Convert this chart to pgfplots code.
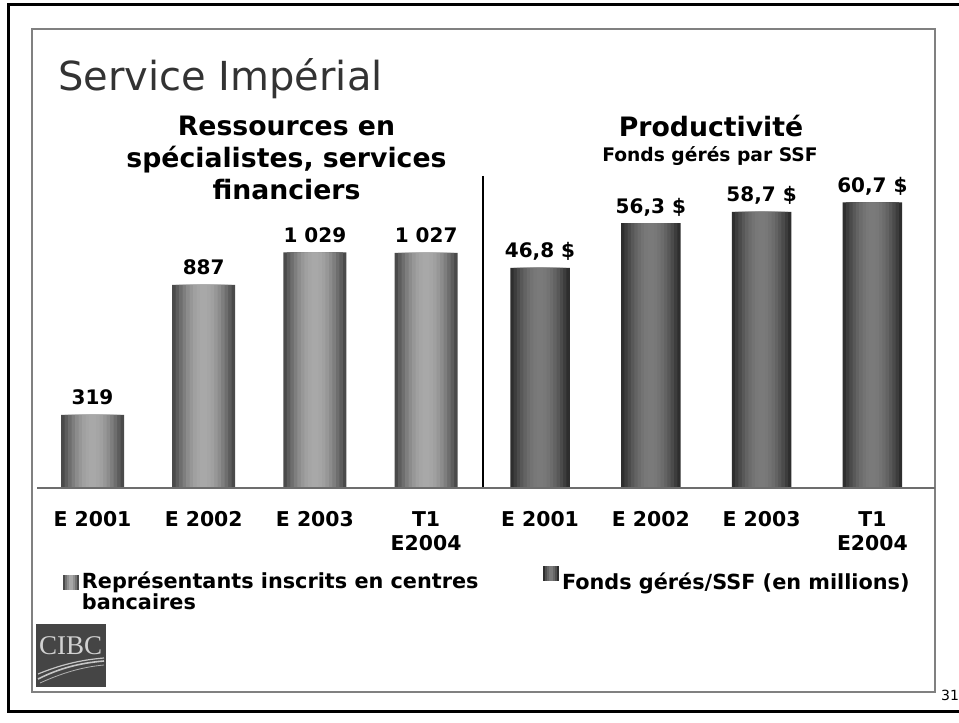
\documentclass[border=0pt]{standalone}
\usepackage{pgfplots}
\usepackage{pgfplotstable}
\pgfplotsset{compat=1.18}
\usepackage{fontspec}
\setmainfont{DejaVu Sans}
\newfontfamily\serifcibc{Liberation Serif}
\definecolor{lbedge}{HTML}{4A4A4A}
\definecolor{lbmid}{HTML}{A8A8A8}
\definecolor{rbedge}{HTML}{2E2E2E}
\definecolor{rbmid}{HTML}{7A7A7A}
\definecolor{titlegray}{HTML}{333333}
\definecolor{framegray}{HTML}{808080}
\definecolor{logogray}{HTML}{454545}
\newcommand\fs[2]{\fontsize{#1}{#2}\selectfont}

\pgfplotstableread{
x y
0 319
1 887
2 1029
3 1027
}\lefttab
\pgfplotstableread{
x y
0 46.8
1 56.3
2 58.7
3 60.7
}\righttab

% one vertical stripe of the cylinder-like shading: table, bar width, colour
\newcommand\stripe[3]{\addplot[ybar, bar width=#2pt, draw=none, fill=#3, forget plot] table[x=x,y=y] {#1};}
% striped legend swatch: edge colour, middle colour
\newcommand\swatch[2]{%
  \fill[#1] (0pt,1pt) rectangle (16pt,16pt);
  \fill[#2!45!#1] (2pt,1pt) rectangle (14pt,16pt);
  \fill[#2!75!#1] (4pt,1pt) rectangle (12pt,16pt);
  \fill[#2] (6pt,1pt) rectangle (10pt,16pt);}

\begin{document}
\begin{tikzpicture}[x=1pt,y=1pt]
\useasboundingbox (0,0) rectangle (959,723);
% frames
\draw[line width=3pt] (975,718) -- (8,718) -- (8,11) -- (975,11);
\draw[framegray, line width=1.2pt] (32,694) rectangle (935,31);
% titles
\node[anchor=base west, inner sep=0pt, font=\fs{40}{48}, text=titlegray] at (58,632) {Service Impérial};
\node[anchor=base, align=center, inner sep=0pt, font=\bfseries\fs{26.7}{32}] at (286.5,523) {Ressources en\\spécialistes, services\\financiers};
\node[anchor=base, inner sep=0pt, font=\bfseries\fs{26.7}{32}] at (711,586) {Productivité};
\node[anchor=base, inner sep=0pt, font=\bfseries\fs{18.7}{22}] at (710,561) {Fonds gérés par SSF};

\pgfplotsset{
  slidebars/.style={
    scale only axis, anchor=south west,
    xmin=-0.5, xmax=3.5, ymin=0,
    axis line style={draw=none}, tick style={draw=none},
    ytick=\empty, xtick={0,1,2,3},
    xticklabels={E 2001, E 2002, E 2003, {\setlength\tabcolsep{0pt}\begin{tabular}[t]{c}T1\\E2004\end{tabular}}},
    xticklabel style={anchor=base, yshift=-38.7pt, font=\bfseries\fs{20.4}{24}, inner sep=0pt},
    /pgf/number format/assume math mode=true,
    clip=false,
    nodes near coords style={font=\bfseries\fs{20}{24}, anchor=base, yshift=10pt, inner sep=0pt},
    legend style={at={(0,0)}, anchor=north west, draw=none, fill=none, inner sep=0pt, outer sep=0pt,
      column sep=3pt, font=\bfseries\fs{20.8}{21}, nodes={inner sep=0pt, align=left}},
    legend cell align=left,
  }
}

\begin{axis}[slidebars, at={(36.9pt,235pt)}, width=444.8pt, height=297.7pt, ymax=1300,
  legend style={xshift=26pt, yshift=-83.4pt}]
\addplot[ybar, bar width=63pt, draw=none, fill=lbedge,
  legend image code/.code={\swatch{lbedge}{lbmid}}]
  table[x=x,y=y] {\lefttab};
\addlegendentry{Représentants inscrits en centres\\bancaires}
\stripe{\lefttab}{56}{lbmid!20!lbedge}
\stripe{\lefttab}{49}{lbmid!38!lbedge}
\stripe{\lefttab}{42}{lbmid!55!lbedge}
\stripe{\lefttab}{35}{lbmid!70!lbedge}
\stripe{\lefttab}{28}{lbmid!82!lbedge}
\stripe{\lefttab}{21}{lbmid!91!lbedge}
\stripe{\lefttab}{14}{lbmid!97!lbedge}
\addplot[ybar, bar width=7pt, draw=none, fill=lbmid, forget plot,
  nodes near coords={\pgfmathprintnumber[fixed, precision=0, 1000 sep={\ }]{\pgfplotspointmeta}}]
  table[x=x,y=y] {\lefttab};
\end{axis}

\begin{axis}[slidebars, at={(484.6pt,235pt)}, width=443.2pt, height=305.8pt, ymax=65,
  legend style={xshift=58.4pt, yshift=-78.4pt}]
\addplot[ybar, bar width=59.5pt, draw=none, fill=rbedge,
  legend image code/.code={\swatch{rbedge}{rbmid}}]
  table[x=x,y=y] {\righttab};
\addlegendentry{Fonds gérés/SSF (en millions)}
\stripe{\righttab}{52.9}{rbmid!20!rbedge}
\stripe{\righttab}{46.3}{rbmid!38!rbedge}
\stripe{\righttab}{39.7}{rbmid!55!rbedge}
\stripe{\righttab}{33.1}{rbmid!70!rbedge}
\stripe{\righttab}{26.4}{rbmid!82!rbedge}
\stripe{\righttab}{19.8}{rbmid!91!rbedge}
\stripe{\righttab}{13.2}{rbmid!97!rbedge}
\addplot[ybar, bar width=6.6pt, draw=none, fill=rbmid, forget plot,
  nodes near coords={\pgfmathprintnumber[fixed, fixed zerofill, precision=1, use comma]{\pgfplotspointmeta}\ \$}]
  table[x=x,y=y] {\righttab};
\end{axis}

% divider and baseline
\draw[line width=2.5pt] (483,547) -- (483,235);
\draw[framegray!85!black, line width=1.6pt] (37,235) -- (935,235);

% logo
\fill[logogray] (36,36) rectangle (106,99);
\node[anchor=base west, inner sep=0pt, text=gray!35, font=\serifcibc\fs{27}{27}] at (39,68) {CIBC};
\draw[gray!45, line width=1.6pt] (38,44) .. controls (60,55) and (80,60) .. (104,62);
\draw[gray!45, line width=1.2pt] (38,49) .. controls (60,58) and (80,63) .. (104,65);
\draw[gray!60, line width=0.8pt] (40,40) .. controls (62,50) and (82,56) .. (104,58);

% page number
\node[anchor=base west, inner sep=0pt, font=\fs{14}{17}] at (941,22) {31};
\end{tikzpicture}
\end{document}
